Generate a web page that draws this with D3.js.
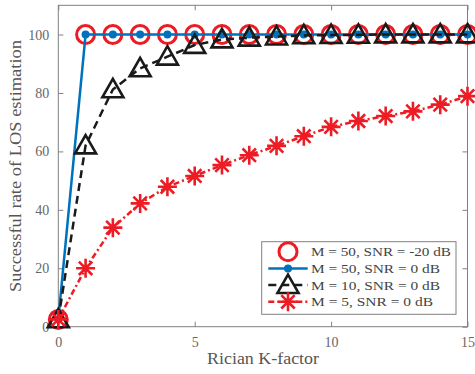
<!DOCTYPE html>
<html>
<head>
<meta charset="utf-8">
<script src="https://cdn.jsdelivr.net/npm/d3@7"></script>
<style>
	body { margin: 0; background: #fff; }
	svg text { font-family: "Liberation Serif", "DejaVu Serif", serif; }
</style>
</head>
<body>
<div id="chart"></div>
<script>
// data
const kFactor = [0, 1, 2, 3, 4, 5, 6, 7, 8, 9, 10, 11, 12, 13, 14, 15];
const m50Low = [2.5, 100, 100, 100, 100, 100, 100, 100, 100, 100, 100, 100, 100, 100, 100, 100];
const m50 = [2.5, 100, 100, 100, 100, 100, 100, 100, 100, 100, 100, 100, 100, 100, 100, 100];
const m10 = [2.5, 62, 81.2, 88.4, 92.4, 96.4, 98.3, 98.9, 99.3, 99.7, 99.8, 99.9, 100, 100, 100, 100];
const m5 = [2.5, 20, 33.9, 42.2, 47.9, 51.6, 55.3, 58.7, 61.9, 65.2, 68.4, 70.4, 72.1, 73.7, 76, 78.9];
const xTicks = [0, 5, 10, 15];
const yTicks = [0, 20, 40, 60, 80, 100];
const legendLabels = ['M = 50, SNR = -20 dB', 'M = 50, SNR = 0 dB', 'M = 10, SNR = 0 dB', 'M = 5, SNR = 0 dB'];
const legendWidths = [140, 129, 129, 122];

const red = '#ed1c24';
const blue = '#0072bd';
const black = '#1a1a1a';
const axisCol = '#808080';

const width = 475;
const height = 374;
const marginLeft = 58.3;
const marginRight = 7.5;
const marginTop = 5.3;
const marginBottom = 47.3;

const $svg = d3.select('#chart').append('svg')
	.attr('width', width)
	.attr('height', height);

const scaleX = d3.scaleLinear().domain([0, 15]).range([marginLeft, width - marginRight]);
const scaleY = d3.scaleLinear().domain([0, 110]).range([height - marginBottom, marginTop]);

// axes box
const $axes = $svg.append('g').attr('class', 'g-axes');
$axes.append('rect')
	.attr('x', scaleX(0)).attr('y', scaleY(110))
	.attr('width', scaleX(15) - scaleX(0)).attr('height', scaleY(0) - scaleY(110))
	.attr('fill', 'none').attr('stroke', axisCol).attr('stroke-width', 1);

const axisX = d3.axisBottom(scaleX).tickValues(xTicks).tickSize(-5).tickPadding(10);
const axisY = d3.axisLeft(scaleY).tickValues(yTicks).tickSize(-5).tickPadding(9);
const axisTop = d3.axisTop(scaleX).tickValues(xTicks).tickSize(-5).tickFormat('');
const axisRight = d3.axisRight(scaleY).tickValues(yTicks).tickSize(-5).tickFormat('');

function styleAxis(g) {
	g.select('.domain').remove();
	g.selectAll('line').attr('stroke', axisCol);
	g.selectAll('text').attr('fill', '#666').style('font-size', '14px')
		.style('font-family', '"Liberation Serif", serif');
}

$axes.append('g').attr('transform', `translate(0,${scaleY(0)})`).call(axisX).call(styleAxis);
$axes.append('g').attr('transform', `translate(${scaleX(0)},0)`).call(axisY).call(styleAxis);
$axes.append('g').attr('transform', `translate(0,${scaleY(110)})`).call(axisTop).call(styleAxis);
$axes.append('g').attr('transform', `translate(${scaleX(15)},0)`).call(axisRight).call(styleAxis);

$svg.append('text')
	.attr('x', 263)
	.attr('y', 364)
	.attr('text-anchor', 'middle')
	.attr('fill', '#555')
	.attr('textLength', 112)
	.attr('lengthAdjust', 'spacingAndGlyphs')
	.style('font-size', '16px')
	.text('Rician K-factor');

$svg.append('text')
	.attr('transform', `translate(21, 166) rotate(-90)`)
	.attr('text-anchor', 'middle')
	.attr('fill', '#555')
	.attr('textLength', 252)
	.attr('lengthAdjust', 'spacingAndGlyphs')
	.style('font-size', '16px')
	.text('Successful rate of LOS estimation');

// marker helpers
function drawCircle(g, x, y) {
	g.append('circle').attr('cx', x).attr('cy', y).attr('r', 9)
		.attr('fill', 'none').attr('stroke', red).attr('stroke-width', 3);
}
function drawDot(g, x, y) {
	g.append('circle').attr('cx', x).attr('cy', y).attr('r', 4).attr('fill', blue);
}
function drawTriangle(g, x, y) {
	const s = 10.5;
	g.append('path')
		.attr('d', `M${x},${y - s}L${x + s},${y + s * 0.75}L${x - s},${y + s * 0.75}Z`)
		.attr('fill', 'none').attr('stroke', black).attr('stroke-width', 2.6)
		.attr('stroke-linejoin', 'miter');
}
function drawStar(g, x, y) {
	const s = 9.5;
	const d = s * 0.707;
	g.append('path')
		.attr('d', `M${x - s},${y}L${x + s},${y}M${x},${y - s}L${x},${y + s}M${x - d},${y - d}L${x + d},${y + d}M${x - d},${y + d}L${x + d},${y - d}`)
		.attr('stroke', red).attr('stroke-width', 2.6);
}

const line = d3.line().x(d => scaleX(d[0])).y(d => scaleY(d[1]));
const $vis = $svg.append('g').attr('class', 'g-vis');

const series = [
	{ values: m50Low, color: red, dash: null, width: 0, marker: drawCircle },
	{ values: m50, color: blue, dash: null, width: 2.5, marker: drawDot },
	{ values: m10, color: black, dash: '8,5', width: 2.5, marker: drawTriangle },
	{ values: m5, color: red, dash: '6,3,2,3', width: 2.5, marker: drawStar }
];

series.forEach(s => {
	const pts = kFactor.map((k, i) => [k, s.values[i]]);
	const $g = $vis.append('g');
	if (s.width > 0) {
		$g.append('path')
			.attr('d', line(pts))
			.attr('fill', 'none')
			.attr('stroke', s.color)
			.attr('stroke-width', s.width)
			.attr('stroke-dasharray', s.dash);
	}
	pts.forEach(p => s.marker($g, scaleX(p[0]), scaleY(p[1])));
});

// legend
const $legend = $svg.append('g').attr('class', 'g-legend');
$legend.append('rect')
	.attr('x', 261.7).attr('y', 241.7).attr('width', 194.3).attr('height', 72.6)
	.attr('fill', '#fff').attr('stroke', axisCol).attr('stroke-width', 1);

legendLabels.forEach((label, i) => {
	const y = 251.7 + i * 16.7;
	const s = series[i];
	const $row = $legend.append('g');
	if (s.width > 0) {
		$row.append('line')
			.attr('x1', 268.3).attr('x2', 307.7).attr('y1', y).attr('y2', y)
			.attr('stroke', s.color).attr('stroke-width', s.width)
			.attr('stroke-dasharray', s.dash);
	}
	s.marker($row, 288, y);
	$row.append('text')
		.attr('x', 311).attr('y', y + 4.5)
		.attr('fill', '#444')
		.attr('textLength', legendWidths[i])
		.attr('lengthAdjust', 'spacingAndGlyphs')
		.style('font-size', '13.5px')
		.text(label);
});
</script>
</body>
</html>
